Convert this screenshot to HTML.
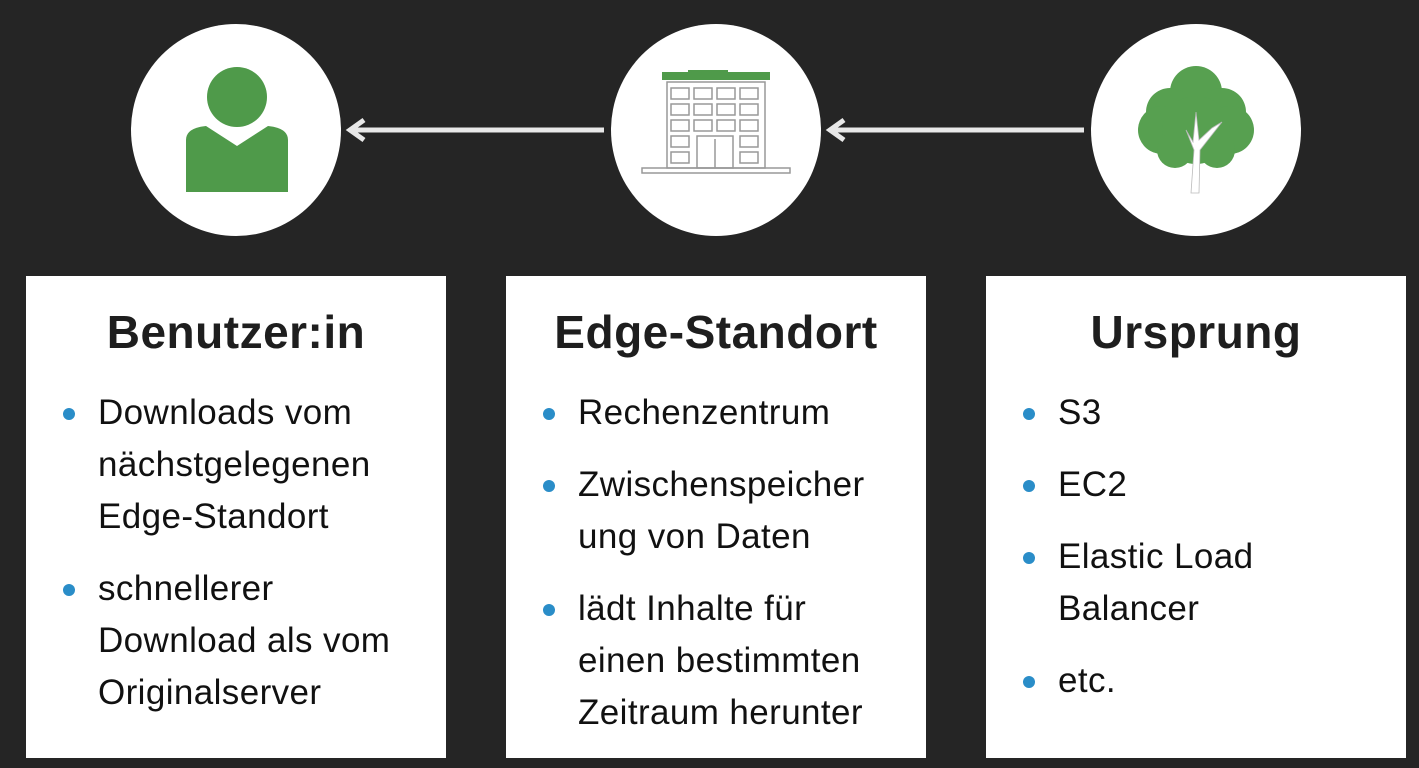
<!DOCTYPE html>
<html><head><meta charset="utf-8"><style>
body{margin:0;width:1419px;height:768px;background:#252525;position:relative;overflow:hidden;font-family:"Liberation Sans",sans-serif}
.c{position:absolute;width:210px;height:212px;border-radius:50%;background:#fff;top:24px}
.box{position:absolute;top:276px;width:420px;height:482px;background:#fff}
.t{position:absolute;top:28px;left:0;width:100%;text-align:center;font-weight:bold;font-size:46px;line-height:56px;color:#1e1e1e;letter-spacing:0.5px}
ul{position:absolute;top:111px;left:0;margin:0;padding:0 0 0 72px;list-style:none;font-size:35px;line-height:52px;color:#111;letter-spacing:0.4px;white-space:nowrap}
li{position:relative;margin-bottom:20px}
li:before{content:"";position:absolute;left:-35px;top:21px;width:12px;height:12px;border-radius:50%;background:#2a8dc8}
</style></head><body>
<div class="c" style="left:131px"></div>
<div class="c" style="left:611px"></div>
<div class="c" style="left:1091px"></div>
<svg width="1419" height="260" style="position:absolute;left:0;top:0">
<g stroke="#e8e8e8" stroke-width="5" fill="none">
<line x1="352" y1="130" x2="604" y2="130"/><polyline points="364,120 350,130 364,140"/>
<line x1="832" y1="130" x2="1084" y2="130"/><polyline points="844,120 830,130 844,140"/>
</g>
<circle cx="237" cy="97" r="30" fill="#4f9a4a"/>
<path d="M186,140 Q186,128 206,126 L237,146 L268,126 Q288,128 288,140 L288,192 L186,192 Z" fill="#4f9a4a"/>
<rect x="662" y="72" width="108" height="8" fill="#4f9a4a"/><rect x="688" y="70" width="40" height="4" fill="#4f9a4a"/>
<g fill="none" stroke="#999" stroke-width="1.5">
<rect x="667" y="82" width="98" height="86"/>
<rect x="642" y="168" width="148" height="5"/>
<g id="r"><rect x="671" y="88" width="18" height="11"/><rect x="694" y="88" width="18" height="11"/><rect x="717" y="88" width="18" height="11"/><rect x="740" y="88" width="18" height="11"/></g>
<use href="#r" y="16"/><use href="#r" y="32"/>
<rect x="671" y="136" width="18" height="11"/><rect x="740" y="136" width="18" height="11"/>
<rect x="671" y="152" width="18" height="11"/><rect x="740" y="152" width="18" height="11"/>
<rect x="697" y="136" width="36" height="32"/><line x1="715" y1="139" x2="715" y2="168"/>
</g>
<g fill="#57a050">
<circle cx="1196" cy="92" r="26"/><circle cx="1170" cy="112" r="24"/><circle cx="1222" cy="112" r="24"/>
<circle cx="1162" cy="130" r="24"/><circle cx="1230" cy="130" r="24"/><circle cx="1196" cy="130" r="34"/>
<circle cx="1175" cy="150" r="18"/><circle cx="1217" cy="150" r="18"/>
</g>
<path d="M1191,193 L1194,150 L1186,130 L1193,142 L1196,112 L1199,140 L1212,128 L1222,122 L1200,150 L1199,193 Z" fill="#fff" stroke="#bbb" stroke-width="0.8"/>
</svg>
<div class="box" style="left:26px"><div class="t">Benutzer:in</div>
<ul><li>Downloads vom<br>nächstgelegenen<br>Edge-Standort</li><li>schnellerer<br>Download als vom<br>Originalserver</li></ul></div>
<div class="box" style="left:506px"><div class="t">Edge-Standort</div>
<ul><li>Rechenzentrum</li><li>Zwischenspeicher<br>ung von Daten</li><li>lädt Inhalte für<br>einen bestimmten<br>Zeitraum herunter</li></ul></div>
<div class="box" style="left:986px"><div class="t">Ursprung</div>
<ul><li>S3</li><li>EC2</li><li>Elastic Load<br>Balancer</li><li>etc.</li></ul></div>
</body></html>
